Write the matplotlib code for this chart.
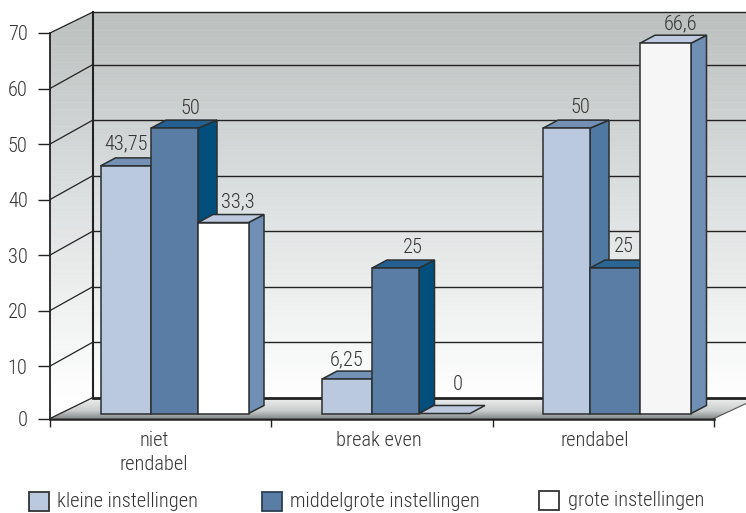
import numpy as np
from matplotlib import pyplot as plt
from matplotlib import font_manager as fm
from matplotlib.patches import Polygon, Rectangle

installed = set(f.name for f in fm.fontManager.ttflist)
narrow = [n for n in ['Roboto Condensed', 'Archivo Narrow', 'Pragati Narrow'] if n in installed]
plt.rcParams['font.family'] = narrow + ['Liberation Sans', 'DejaVu Sans']
plt.rcParams['font.weight'] = 'light'

categories = ['niet\nrendabel', 'break even', 'rendabel']
series_names = ['kleine instellingen', 'middelgrote instellingen', 'grote instellingen']
# labels as printed, heights as actually drawn in the picture
value_labels = [['43,75', '50', '33,3'], ['6,25', '25', '0'], ['50', '25', '66,6']]
bar_heights = [[44.6, 51.4, 34.4], [6.2, 26.2, 0], [51.4, 26.2, 66.7]]
y_ticks = [0, 10, 20, 30, 40, 50, 60, 70]

LIGHT, MID, WHITE = '#bbc9de', '#5a7da6', '#ffffff'
face_colors = [[LIGHT, MID, WHITE], [LIGHT, MID, LIGHT], [LIGHT, MID, '#f6f6f7']]
top_colors = [['#7391b5', '#245f91', '#bcc9de'], ['#7391b5', '#245f91', '#bcc9de'], ['#7391b5', '#2a6695', '#bcc9de']]
side_colors = [['#4f78a3', '#024e7c', '#6f8fb5'], ['#4f78a3', '#024e7c', '#6f8fb5'], ['#4f78a3', '#2a6695', '#6f8fb5']]
EDGE = '#2b2f30'
TEXT = '#333333'
FS = 14.7

# layout in pixels of the 746x513 picture
X0, X1, Y0, Y70 = 50.0, 714.0, 418.5, 33.0
YMIN = 0.56
bar_edges = [[100.5, 151, 198, 248.5], [322, 372, 419, 470], [543, 590, 640, 691]]
side_dx = [[15, 19, 15.5], [15, 15.5, 15], [19, 15, 15.5]]
label_dx = [[0, 15.5, 15], [0, 17.5, 13.5], [13.5, 9, 15.5]]
label_dy = [[22, 20, 21], [19, 21, 29], [21, 22, 19.5]]
BASE_PY = 413.5

fig = plt.figure(figsize=(7.46, 5.13), dpi=100)
ax = fig.add_axes([X0 / 746, (513 - Y0) / 513, (X1 - X0) / 746, (Y0 - Y70) / 513])

PX_X = 3 / (X1 - X0)
PX_Y = (70 - YMIN) / (Y0 - Y70)


def px(x, y):
    return (x - X0) * PX_X, YMIN + (Y0 - y) * PX_Y


def wall_gradient(n):
    t = np.linspace(0, 1, n)
    top = np.array([0xbb, 0xbf, 0xbe])
    mid = np.array([0xde, 0xe1, 0xe1])
    bottom = np.array([0xff, 0xff, 0xff])
    img = np.zeros((n, 1, 3))
    for c in range(3):
        img[:, 0, c] = np.interp(t, [0, 0.5, 1], [top[c], mid[c], bottom[c]])
    # faint light bands of the original artwork
    for r in range(3, n, 8):
        img[r:r + 1, 0, :] += 4 * (1 - r / n)
    return np.clip(img, 0, 255) / 255


def fill(img, corners, extent):
    im = ax.imshow(img, extent=extent, aspect='auto', interpolation='nearest', zorder=0)
    im.set_clip_box(fig.bbox)
    im.set_clip_path(Polygon([px(*c) for c in corners], transform=ax.transData))


# back wall and left wall
wx0, wy1 = px(X0, 12)
wx1, wy0 = px(760, 398)
wall = wall_gradient(386)
fill(wall, [(93, 12), (760, 12), (760, 398), (93, 398)], [px(93, 0)[0], wx1, wy0, wy1])
fill(wall, [(X0, 33), (93, 12), (93, 398), (X0, Y0)], [wx0, px(93, 0)[0], wy0, wy1])

# floor
floor = np.zeros((21, 1, 3))
for c, (a, b) in enumerate(zip((0xf0, 0xf1, 0xf1), (0x8e, 0x92, 0x92))):
    floor[:, 0, c] = np.interp(np.linspace(0, 1, 21), [0, 0.65, 1], [a, (a + b) / 2 + 12, b]) / 255
fx0, fy1 = px(X0, 397.5)
fx1, fy0 = px(760, Y0)
fill(floor, [(X0, Y0), (93, 397.5), (760, 397.5), (X1 + 46, 397.5), (X1, Y0)], [fx0, fx1, fy0, fy1])
ax.set_xlim(0, 3)
ax.set_ylim(YMIN, 70)

# grid lines on both walls
right_x = px(760, 0)[0]
for v in y_ticks[1:]:
    front_py = Y0 - (v - YMIN) / PX_Y
    bx, by = px(93, max(12, front_py - 24))
    ax.plot([0, bx], [v, by], color='#222222', lw=0.9, clip_on=False, zorder=1, solid_capstyle='butt')
    ax.plot([bx, right_x], [by, by], color='#222222', lw=1.0, clip_on=False, zorder=1)
bx, by = px(93, 397.5)
ax.plot([0, bx], [YMIN, by], color='#222222', lw=0.9, clip_on=False, zorder=1)
ax.plot([bx, right_x], [by, by], color='#222222', lw=2.0, clip_on=False, zorder=1)
ax.plot([bx, bx], [by, px(0, 12)[1]], color='#222222', lw=1.5, clip_on=False, zorder=1)
ax.plot([3, right_x], [YMIN, px(0, 397)[1]], color='#555555', lw=0.8, clip_on=False, zorder=1)

# bars, left to right so each one hides the side of its neighbour
base = px(0, BASE_PY)[1]
depth_y = 8 * PX_Y
for g, edges in enumerate(bar_edges):
    for b in range(3):
        left = px(edges[b], 0)[0]
        right = px(edges[b + 1], 0)[0]
        h = bar_heights[g][b]
        top = base + h
        back_l = left + 15 * PX_X
        back_r = right + side_dx[g][b] * PX_X
        if h > 0:
            ax.add_patch(Polygon([(right, base), (back_r, base + depth_y), (back_r, top + depth_y), (right, top)],
                                 fc=side_colors[g][b], ec=EDGE, lw=1.1, zorder=3, clip_on=False))
        ax.add_patch(Polygon([(left, top), (back_l, top + depth_y), (back_r, top + depth_y), (right, top)],
                             fc=top_colors[g][b], ec=EDGE, lw=1.1, zorder=3, clip_on=False))
        if h > 0:
            ax.bar(left, h, right - left, bottom=base, align='edge', color=face_colors[g][b],
                   edgecolor=EDGE, lw=1.1, zorder=3, clip_on=False)
for g, edges in enumerate(bar_edges):
    for b in range(3):
        cx = px((edges[b] + edges[b + 1]) / 2, 0)[0]
        ax.annotate(value_labels[g][b], (cx, base + bar_heights[g][b]),
                    xytext=(label_dx[g][b], label_dy[g][b]), textcoords='offset pixels',
                    ha='center', va='center', color=TEXT, fontsize=FS, zorder=6, annotation_clip=False)

# axes
for s in ['top', 'right']:
    ax.spines[s].set_visible(False)
ax.spines['left'].set_color('#222222')
ax.spines['left'].set_linewidth(1.3)
ax.spines['bottom'].set_color('#222222')
ax.spines['bottom'].set_linewidth(1.8)
ax.spines['left'].set_zorder(4)
ax.spines['bottom'].set_zorder(4)
ax.set_yticks(np.maximum(y_ticks, YMIN))
ax.set_yticklabels([str(v) for v in y_ticks])
ax.tick_params(axis='y', length=8.6, width=1.0, pad=7.5, labelsize=FS, labelcolor=TEXT, color='#222222')
ax.set_xticks([0, 1, 2, 3])
ax.set_xticklabels([])
ax.tick_params(axis='x', length=6, width=1.0, color='#222222')
ax.set_xticks([px(154, 0)[0], px(379, 0)[0], px(595, 0)[0]], minor=True)
ax.set_xticklabels(categories, minor=True, fontsize=FS, color=TEXT, linespacing=1.3)
ax.tick_params(axis='x', which='minor', length=0, pad=9)
ax.patch.set_visible(False)

# legend
legend_boxes = [(29, 492), (262, 492), (539, 491)]
legend_text_x = [57, 290, 568]
legend_fc = [LIGHT, MID, WHITE]
for (lx, ly), tx, name, fc in zip(legend_boxes, legend_text_x, series_names, legend_fc):
    fig.add_artist(Rectangle((lx / 746, 1 - (ly + 19) / 513), 20 / 746, 19 / 513, transform=fig.transFigure,
                             fc=fc, ec='#333333' if fc != MID else '#2b3f55', lw=1.3))
    fig.text(tx / 746, 1 - (ly + 9.5) / 513, name, ha='left', va='center', color=TEXT, fontsize=FS)

plt.savefig('out.png', dpi=100)
